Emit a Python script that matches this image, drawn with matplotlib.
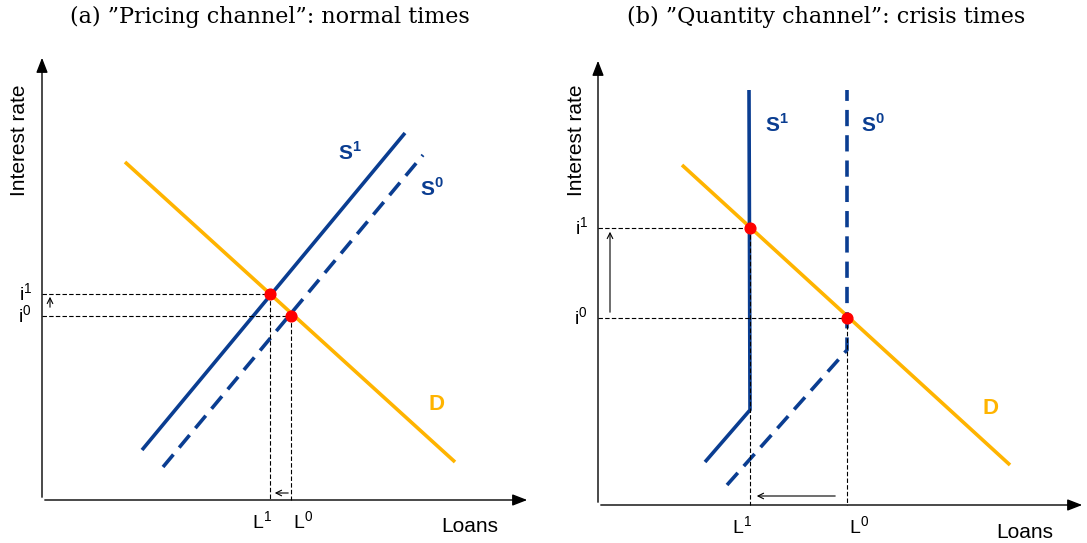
import matplotlib.pyplot as plt

plt.rcParams['font.family'] = ['Liberation Sans', 'DejaVu Sans']
plt.rcParams['mathtext.fontset'] = 'custom'
plt.rcParams['mathtext.rm'] = 'Liberation Sans'
plt.rcParams['mathtext.bf'] = 'Liberation Sans:bold'

BLUE = '#0a3d91'
ORANGE = '#ffb400'

# panel geometry / schematic line endpoints, in pixel units of the picture (y downwards)
origins = [(42, 500), (598, 505)]
axis_tops = [55, 58]
axis_ends = [530, 1085]

demand = [[(125, 162), (455, 462)], [(682, 165), (1010, 465)]]
supply1 = [[(142, 450), (405, 133)], [(705, 462), (750, 410), (749, 90)]]
supply0 = [[(163, 467), (423, 155)], [(727, 485), (847, 350), (847, 90)]]
equilibria = [[(270, 294), (291, 316)], [(750, 228), (847, 318)]]
shift_arrows = [[((50, 310), (50, 294)), ((291, 493), (272, 493))],
                [((610, 315), (610, 229)), ((838, 496), (754, 496))]]
titles = ['(a) \u201dPricing channel\u201d: normal times', '(b) \u201dQuantity channel\u201d: crisis times']
title_x = [270, 826]
s_labels = [[(350, 152), (432, 188)], [(777, 125), (873, 125)]]
d_label = [(437, 404), (991, 408)]

fig = plt.figure(figsize=(10.87, 5.43), dpi=100)
ax = fig.add_axes([0, 0, 1, 1])
ax.set_xlim(0, 1087)
ax.set_ylim(543, 0)
ax.axis('off')

for k in range(2):
    ox, oy = origins[k]
    ax.annotate('', xy=(ox, axis_tops[k]), xytext=(ox, oy),
                arrowprops=dict(arrowstyle='-|>,head_length=0.9,head_width=0.35', color='black', lw=1))
    ax.annotate('', xy=(axis_ends[k], oy), xytext=(ox, oy),
                arrowprops=dict(arrowstyle='-|>,head_length=0.9,head_width=0.35', color='black', lw=1))
    ax.plot(*zip(*demand[k]), color=ORANGE, lw=2.6, solid_capstyle='butt')
    ax.plot(*zip(*supply1[k]), color=BLUE, lw=2.6, solid_capstyle='butt')
    ax.plot(*zip(*supply0[k]), color=BLUE, lw=2.6, ls=(0, (4.5, 2.5)))
    for (px, py) in equilibria[k]:
        ax.plot([ox, px], [py, py], color='black', lw=0.8, ls=(0, (4, 2)))
        ax.plot([px, px], [py, oy], color='black', lw=0.8, ls=(0, (4, 2)))
    xs, ys = zip(*equilibria[k])
    ax.scatter(xs, ys, s=60, color='red', zorder=5)
    for a, b in shift_arrows[k]:
        ax.annotate('', xy=b, xytext=a, arrowprops=dict(arrowstyle='->', color='black', lw=0.8))
    (x1, y1), (x0, y0) = equilibria[k]
    ax.text(ox - 10, y1, 'i$^1$', ha='right', va='center', fontsize=14)
    ax.text(ox - 10, y0, 'i$^0$', ha='right', va='center', fontsize=14)
    ax.text(x1 - 8, oy + 22, 'L$^1$', ha='center', va='center', fontsize=14)
    ax.text(x0 + 12, oy + 22, 'L$^0$', ha='center', va='center', fontsize=14)
    ax.text(axis_ends[k] - 60, oy + 27, 'Loans', ha='center', va='center', fontsize=15)
    ax.text(ox - 22, 140, 'Interest rate', rotation=90, ha='center', va='center', fontsize=15)
    ax.text(title_x[k], 17, titles[k], ha='center', va='center', fontsize=16, family='DejaVu Serif')
    ax.text(*s_labels[k][0], r'S$^\mathbf{1}$', color=BLUE, fontsize=15, weight='bold', ha='center', va='center')
    ax.text(*s_labels[k][1], r'S$^\mathbf{0}$', color=BLUE, fontsize=15, weight='bold', ha='center', va='center')
    ax.text(*d_label[k], 'D', color=ORANGE, fontsize=16, weight='bold', ha='center', va='center')

fig.savefig('out.png', dpi=100)
